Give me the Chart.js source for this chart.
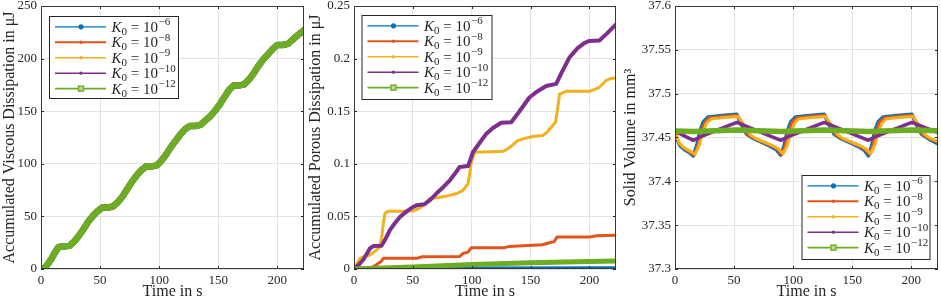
<!DOCTYPE html>
<html><head><meta charset="utf-8">
<script src="https://cdn.jsdelivr.net/npm/chart.js@4.4.0/dist/chart.umd.min.js"></script>
<style>
html,body{margin:0;padding:0;background:#fff;width:941px;height:301px;overflow:hidden}
.p{position:absolute;top:0;height:301px}
</style></head><body>
<div class="p" style="left:0;width:306px"><canvas id="c1"></canvas></div>
<div class="p" style="left:306px;width:315px"><canvas id="c2"></canvas></div>
<div class="p" style="left:621px;width:320px"><canvas id="c3"></canvas></div>
<script>
// ---------- data ----------
const legendExponents = ['\u22126', '\u22128', '\u22129', '\u221210', '\u221212'];
const seriesColors = ['#0072BD', '#E2541B', '#F2B11E', '#7E2F8E', '#6CAD24'];
const xTickValues = [0, 50, 100, 150, 200];
const tEnd = 222.6;

const viscousTicks = [0, 50, 100, 150, 200, 250];
const porousTicks = [0, 0.05, 0.1, 0.15, 0.2, 0.25];
const volumeTicks = [37.3, 37.35, 37.4, 37.45, 37.5, 37.55, 37.6];

// Panel 1: accumulated viscous dissipation (all K0 overlap)
const viscT = [0,3,6,9,12,15,20,24,28,32,36,40,44,48,52,57,61,65,69,73,77,81,85,89,94,98,102,106,110,114,118,122,126,131,135,139,143,147,151,155,159,163,168,172,176,180,184,188,192,196,200,205,209,213,217,222.6];
const viscV = [0,1,5,10,16,21,21.5,22,26,31.5,38,45,50.5,55,58.5,58.5,59.5,63.5,69,76,83,89,94,97.5,97.5,98.5,103,109,116,122,128,133,136,136,137,141,145,150,156,163,170,174.5,174.5,175.5,180,186,193,199,204,209,213,213,214,218,222,227];

// Panel 2: accumulated porous dissipation
const porBlueT = [0, 100, 222.6];
const porBlueV = [0, 0.0002, 0.0004];
const porOrangeT = [0,10,16,19,20.6,23,24.9,53,58,89.8,92.6,96.9,99.7,128,132,160,166,170,172.5,200,206,222.6];
const porOrangeV = [0,0.0008,0.0018,0.004,0.0054,0.007,0.0101,0.0101,0.0117,0.012,0.0148,0.016,0.0203,0.0203,0.0215,0.023,0.025,0.026,0.0303,0.0303,0.0316,0.032];
const porYellowT = [0,2,5.1,9,13.6,18,22,23.5,24.9,26.3,29,40,50.3,54,57.3,61,64.4,72,81.4,88,92.6,96.9,98.3,99.7,102.5,115,127,131,135,139,143.5,152,160.4,164,167.5,171.2,173.2,174.6,180.2,200,204,208.5,214,218,222.6];
const porYellowV = [0,0.004,0.0101,0.012,0.0133,0.017,0.0211,0.030,0.043,0.0527,0.055,0.055,0.0552,0.057,0.059,0.063,0.067,0.068,0.070,0.072,0.0748,0.081,0.0906,0.1016,0.111,0.1115,0.112,0.1145,0.118,0.122,0.1237,0.126,0.127,0.130,0.1348,0.1395,0.1537,0.1663,0.1689,0.169,0.1705,0.1727,0.179,0.181,0.1815];
const porPurpleT = [0,4,8,13.6,16.4,23.4,27,30.5,35,39,45,50.3,53,60,65,70,76,81.4,86,89.8,97,101,106.8,112,118,125,133.6,140,149,156,163.3,171.8,177,183,190,196,200,208.5,215,222.6];
const porPurpleV = [0,0.004,0.009,0.0196,0.0218,0.0222,0.029,0.037,0.044,0.0495,0.055,0.059,0.0605,0.0615,0.066,0.0717,0.078,0.0843,0.091,0.097,0.098,0.111,0.120,0.128,0.134,0.139,0.1395,0.149,0.163,0.169,0.174,0.176,0.188,0.201,0.210,0.215,0.2168,0.2172,0.224,0.2326];
const porGreenT = [0, 50, 100, 115, 150, 200, 222.6];
const porGreenV = [0, 0.002, 0.0042, 0.0048, 0.006, 0.0072, 0.0077];

// Panel 3: solid volume
const volBlueT = [0,2,4,8,12,15.5,18.4,21,24,28,40,52.3,56.5,60.7,66,75,82,86,89.5,92.4,95,98,102,114,126.3,130.5,134.7,140,149,156,160,163.7,166.6,169,172,176,188,200.5,204.5,208.7,214,222.6];
const volBlueV = [37.456,37.447,37.441,37.436,37.433,37.429,37.441,37.457,37.468,37.4735,37.475,37.4765,37.464,37.4536,37.449,37.4434,37.439,37.4357,37.430,37.441,37.457,37.468,37.4735,37.475,37.4765,37.464,37.4536,37.449,37.4434,37.439,37.4357,37.429,37.441,37.457,37.468,37.4735,37.475,37.4765,37.464,37.4536,37.449,37.4425];
const volOrangeT = [0,2,4,8,12,16.3,19.4,22,25,29,40,52.8,57.5,61.7,67,76,83,87,90.3,93.4,96,99,103,114,126.8,131.5,135.7,141,150,157,161,164.5,167.6,170,173,177,188,201,205.5,209.7,215,222.6];
const volOrangeV = [37.456,37.448,37.442,37.437,37.434,37.430,37.441,37.456,37.467,37.4725,37.474,37.4755,37.4635,37.4535,37.449,37.4436,37.4395,37.436,37.4305,37.441,37.456,37.467,37.4725,37.474,37.4755,37.4635,37.4535,37.449,37.4436,37.4395,37.436,37.4305,37.441,37.456,37.467,37.4725,37.474,37.4755,37.4635,37.4535,37.449,37.4445];
const volYellowT = [0,2,4,8,12,17,20.5,23.5,26.5,30.5,40,53.5,59,63.5,68,77,84,88,91.5,95,98,101,104.5,114,127.5,133,137.5,142,151,158,162,165.5,169,172,175,178.5,188,201.5,207,211.5,216,222.6];
const volYellowV = [37.456,37.449,37.443,37.438,37.435,37.431,37.441,37.455,37.466,37.471,37.4725,37.474,37.463,37.4535,37.449,37.444,37.440,37.4365,37.4315,37.441,37.455,37.466,37.471,37.4725,37.474,37.463,37.4535,37.449,37.444,37.440,37.4365,37.4315,37.441,37.455,37.466,37.471,37.4725,37.474,37.463,37.4535,37.449,37.4455];
const volPurpleT = [0,15.5,23.5,52.3,89.5,97.5,126.3,163.7,171.5,200.5,222.6];
const volPurpleV = [37.457,37.4468,37.452,37.4672,37.4468,37.452,37.4672,37.4468,37.452,37.4672,37.4555];
const volGreenT = [0,15.5,52.3,89.5,126.3,163.7,200.5,222.6];
const volGreenV = [37.4575,37.4568,37.4585,37.4568,37.4585,37.4568,37.4585,37.4578];

// ---------- helpers ----------
const SERIF = '"Liberation Serif", "DejaVu Serif", serif';
const TXT = '#262626';
function pts(T, V) { return T.map((t, i) => ({x: t, y: V[i]})); }
function ds(i, T, V, w) {
  return {data: pts(T, V), borderColor: seriesColors[i], backgroundColor: seriesColors[i],
          borderWidth: w, pointRadius: 0, order: 5 - i, fill: false};
}
function fmt(v) { return String(+(+v).toFixed(4)); }

function drawMarker(ctx, i, x, y) {
  const c = seriesColors[i];
  ctx.fillStyle = c; ctx.strokeStyle = c;
  if (i === 0) { ctx.beginPath(); ctx.arc(x, y, 2.6, 0, Math.PI * 2); ctx.fill(); }
  else if (i === 4) {
    ctx.fillStyle = '#b9d98f'; ctx.fillRect(x - 2.5, y - 2.5, 5, 5);
    ctx.lineWidth = 1.4; ctx.strokeRect(x - 2.5, y - 2.5, 5, 5);
  } else { ctx.beginPath(); ctx.arc(x, y, 1.7, 0, Math.PI * 2); ctx.fill(); }
}

const framePlugin = {
  id: 'frame',
  afterDraw(chart, args, opts) {
    const ctx = chart.ctx, a = chart.chartArea, xs = chart.scales.x, ys = chart.scales.y;
    ctx.save();
    ctx.strokeStyle = TXT; ctx.lineWidth = 1;
    ctx.beginPath();
    xs.ticks.forEach(t => {
      const px = Math.round(xs.getPixelForValue(t.value)) + 0.5;
      ctx.moveTo(px, a.bottom); ctx.lineTo(px, a.bottom - 3);
      ctx.moveTo(px, a.top); ctx.lineTo(px, a.top + 3);
    });
    ys.ticks.forEach(t => {
      const py = Math.round(ys.getPixelForValue(t.value)) + 0.5;
      ctx.moveTo(a.left, py); ctx.lineTo(a.left + 3, py);
      ctx.moveTo(a.right, py); ctx.lineTo(a.right - 3, py);
    });
    ctx.stroke();
    ctx.strokeStyle = '#3a3a3a';
    ctx.strokeRect(Math.round(a.left) + 0.5, Math.round(a.top) + 0.5, Math.round(a.right - a.left) - 1, Math.round(a.bottom - a.top) - 1);
    // legend
    const L = opts.box;
    ctx.fillStyle = '#fff'; ctx.fillRect(L.x, L.y, L.w, L.h);
    ctx.strokeStyle = TXT; ctx.lineWidth = 1;
    ctx.strokeRect(L.x + 0.5, L.y + 0.5, L.w, L.h);
    const lw = [1.3, 2.2, 1.5, 1.5, 1.8];
    legendExponents.forEach((e, i) => {
      const cy = L.y + 10.8 + i * 15.45;
      ctx.strokeStyle = seriesColors[i]; ctx.lineWidth = lw[i];
      ctx.beginPath(); ctx.moveTo(L.x + 6, cy); ctx.lineTo(L.x + 57, cy); ctx.stroke();
      drawMarker(ctx, i, L.x + 32, cy);
      ctx.fillStyle = TXT; ctx.textBaseline = 'alphabetic'; ctx.textAlign = 'left';
      let x = L.x + 62.5; const base = cy + 5;
      ctx.font = 'italic 15px ' + SERIF; ctx.fillText('K', x, base); x += ctx.measureText('K').width;
      ctx.font = '11px ' + SERIF; ctx.fillText('0', x, base + 3); x += ctx.measureText('0').width;
      ctx.font = '15px ' + SERIF; const mid = ' = 10'; ctx.fillText(mid, x, base); x += ctx.measureText(mid).width;
      ctx.font = '11px ' + SERIF; ctx.fillText(e, x + 0.5, base - 6.5);
    });
    ctx.restore();
  }
};

function makeChart(id, datasets, yTicks, yMin, yMax, yWidth, padRight, box, yTitle) {
  return new Chart(document.getElementById(id), {
    type: 'line',
    data: {datasets},
    options: {
      responsive: true, maintainAspectRatio: false, animation: false,
      layout: {padding: {top: 6, right: padRight, left: 0, bottom: 0}},
      plugins: {legend: {display: false}, tooltip: {enabled: false}, frame: {box}},
      elements: {line: {tension: 0, borderJoinStyle: 'round', borderCapStyle: 'round'}},
      scales: {
        x: {
          type: 'linear', min: 0, max: tEnd,
          afterBuildTicks: s => { s.ticks = xTickValues.map(v => ({value: v})); },
          ticks: {font: {family: SERIF, size: 13}, color: TXT, padding: 4, maxRotation: 0, callback: v => fmt(v)},
          grid: {color: '#e2e2e2', drawTicks: false},
          border: {display: false},
          title: {display: true, text: 'Time in s', font: {family: SERIF, size: 16}, color: TXT, padding: 0},
          afterFit: s => { s.height = 32; s.paddingLeft = 0; s.paddingRight = 0; }
        },
        y: {
          type: 'linear', min: yMin, max: yMax,
          afterBuildTicks: s => { s.ticks = yTicks.map(v => ({value: v})); },
          ticks: {font: {family: SERIF, size: 13}, color: TXT, padding: 4, callback: v => fmt(v)},
          grid: {color: '#e2e2e2', drawTicks: false},
          border: {display: false},
          title: {display: true, text: yTitle, font: {family: SERIF, size: 16}, color: TXT, padding: 0},
          afterFit: s => { s.width = yWidth; s.paddingTop = 0; s.paddingBottom = 0; }
        }
      }
    },
    plugins: [framePlugin]
  });
}

makeChart('c1', [
  ds(0, viscT, viscV, 6.5), ds(1, viscT, viscV, 6), ds(2, viscT, viscV, 6),
  ds(3, viscT, viscV, 6), ds(4, viscT, viscV, 6.5)
], viscousTicks, 0, 250, 41, 2, {x: 49, y: 16, w: 129, h: 82}, 'Accumulated Viscous Dissipation in \u03bcJ');

makeChart('c2', [
  ds(0, porBlueT, porBlueV, 4.5), ds(1, porOrangeT, porOrangeV, 3), ds(2, porYellowT, porYellowV, 3),
  ds(3, porPurpleT, porPurpleV, 4), ds(4, porGreenT, porGreenV, 5)
], porousTicks, 0, 0.25, 48, 5, {x: 55.5, y: 15, w: 130, h: 84}, 'Accumulated Porous Dissipation in \u03bcJ');

makeChart('c3', [
  ds(0, volBlueT, volBlueV, 3.5), ds(1, volOrangeT, volOrangeV, 3), ds(2, volYellowT, volYellowV, 3),
  ds(3, volPurpleT, volPurpleV, 3.5), ds(4, volGreenT, volGreenV, 5.5)
], volumeTicks, 37.3, 37.6, 54, 3, {x: 180.5, y: 175, w: 128, h: 84}, 'Solid Volume in mm\u00b3');
</script>
</body></html>
